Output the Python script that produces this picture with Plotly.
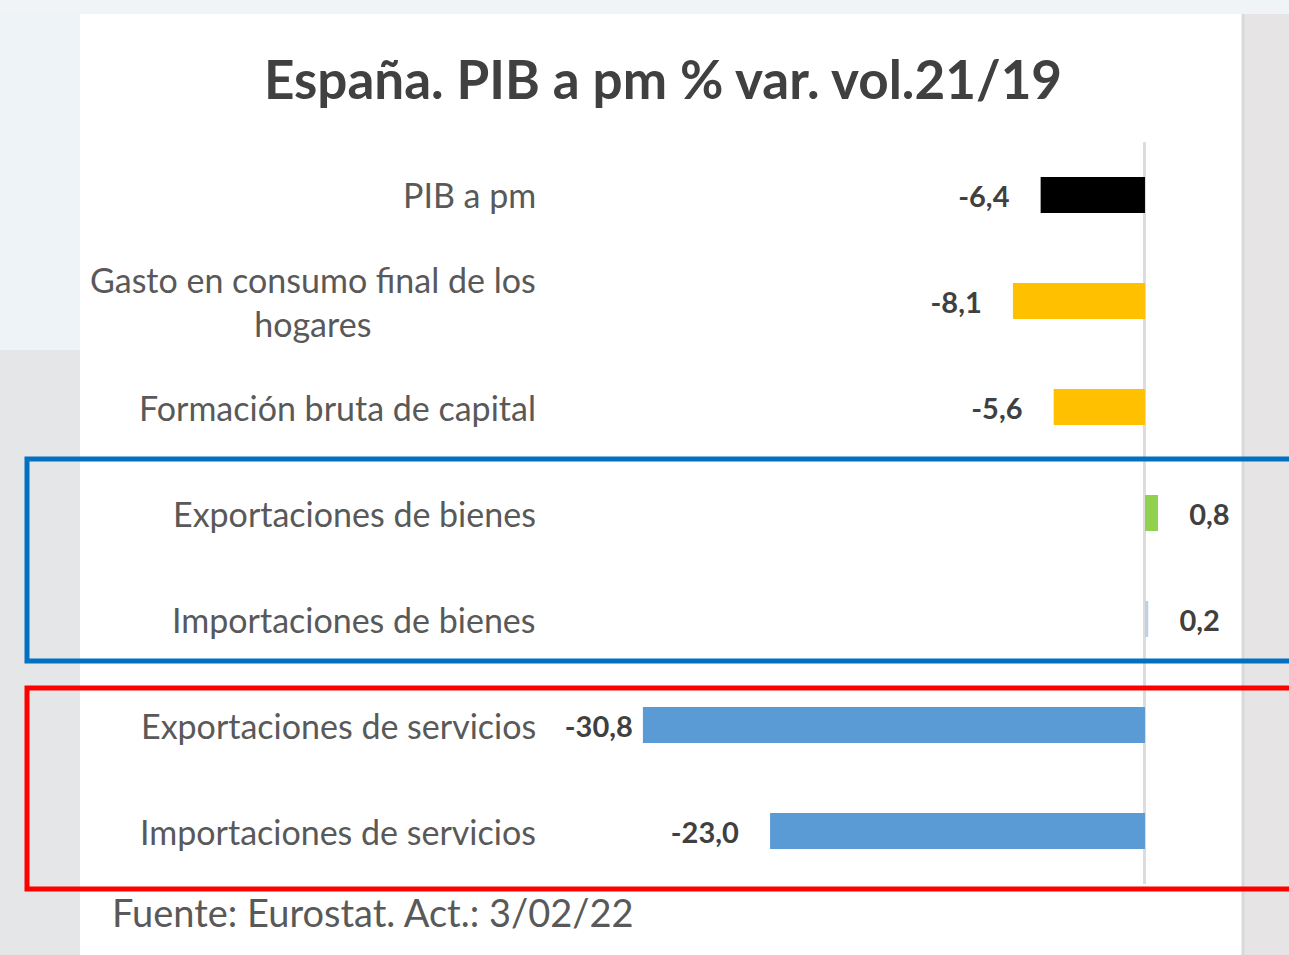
import plotly.graph_objects as go

# ---- data ----
categories = [
    "PIB a pm",
    "Gasto en consumo final de los<br>hogares",
    "Formación bruta de capital",
    "Exportaciones de bienes",
    "Importaciones de bienes",
    "Exportaciones de servicios",
    "Importaciones de servicios",
]
values = [-6.4, -8.1, -5.6, 0.8, 0.2, -30.8, -23.0]
bar_colors = ["#000000", "#FFC000", "#FFC000", "#92D050", "#BDD0E4", "#5B9BD5", "#5B9BD5"]
title_text = "España. PIB a pm % var. vol.21/19"
source_text = "Fuente: Eurostat. Act.: 3/02/22"

# ---- layout helpers ----
W, H = 1289, 955
def px(x):
    return x / W
def py(y):
    return 1 - y / H

pads = [4, 4, 4, 4, 4, 1, 4]
labels = []
for v, p in zip(values, pads):
    s = f"{v:.1f}".replace(".", ",")
    nb = "\u00a0" * p
    labels.append(s + nb if v < 0 else nb + s)

fig = go.Figure(
    go.Bar(
        x=values,
        y=categories,
        orientation="h",
        marker=dict(color=bar_colors, line=dict(width=0)),
        width=0.34,
        text=labels,
        textposition="outside",
        textfont=dict(family="Lato", size=29, color="#404040", weight="bold"),
        cliponaxis=False,
        hoverinfo="skip",
    )
)

shapes = [
    dict(type="rect", xref="paper", yref="paper", x0=0, x1=px(80), y0=py(350), y1=py(14),
         fillcolor="#EEF3F8", line=dict(width=0), layer="below"),
    dict(type="rect", xref="paper", yref="paper", x0=0, x1=px(80), y0=0, y1=py(350),
         fillcolor="#E4E6E7", line=dict(width=0), layer="below"),
    dict(type="rect", xref="paper", yref="paper", x0=px(1243), x1=1, y0=0, y1=py(14),
         fillcolor="#E6E4E4", line=dict(width=0), layer="below"),
    dict(type="rect", xref="paper", yref="paper", x0=px(80), x1=px(1243), y0=0, y1=py(14),
         fillcolor="#FFFFFF", line=dict(width=0), layer="below"),
    dict(type="line", xref="paper", yref="paper", x0=px(1243), x1=px(1243), y0=0, y1=py(14),
         line=dict(color="#D9D9D9", width=3), layer="below"),
    dict(type="rect", xref="paper", yref="paper", x0=px(27), x1=1.02, y0=py(661), y1=py(459),
         line=dict(color="#0070C0", width=5)),
    dict(type="rect", xref="paper", yref="paper", x0=px(27), x1=1.02, y0=py(889), y1=py(688),
         line=dict(color="#FF0000", width=5)),
]

annotations = [
    dict(text=c, x=px(538), y=c, xref="paper", yref="y", xanchor="right", yanchor="middle",
         showarrow=False, align="center",
         font=dict(family="Lato", size=34, color="#595959"))
    for c in categories
]
annotations.append(dict(text=source_text, x=px(110), y=py(912), xref="paper", yref="paper",
                        xanchor="left", yanchor="middle", showarrow=False,
                        font=dict(family="Lato", size=38, color="#595959")))

fig.update_layout(
    width=W, height=H,
    margin=dict(l=0, r=0, t=0, b=0),
    paper_bgcolor="#F1F4F7",
    plot_bgcolor="rgba(0,0,0,0)",
    showlegend=False,
    title=dict(text=title_text, x=px(663), y=py(80), xanchor="center", yanchor="middle",
               xref="paper", yref="paper",
               font=dict(family="Lato", size=53, color="#404040", weight="bold")),
    xaxis=dict(domain=[px(550), px(1240)], range=[-36.5, 5.83], showgrid=False,
               showticklabels=False, ticks="", zeroline=True, zerolinecolor="#DCDCDC",
               zerolinewidth=3, fixedrange=True),
    yaxis=dict(domain=[py(884), py(142)], autorange="reversed", showgrid=False,
               showticklabels=False, ticks="", fixedrange=True),
    shapes=shapes,
    annotations=annotations,
)

fig.write_html("out.html", config={"displayModeBar": False},
               post_script="document.body.style.margin='0';document.body.style.overflow='hidden';")
